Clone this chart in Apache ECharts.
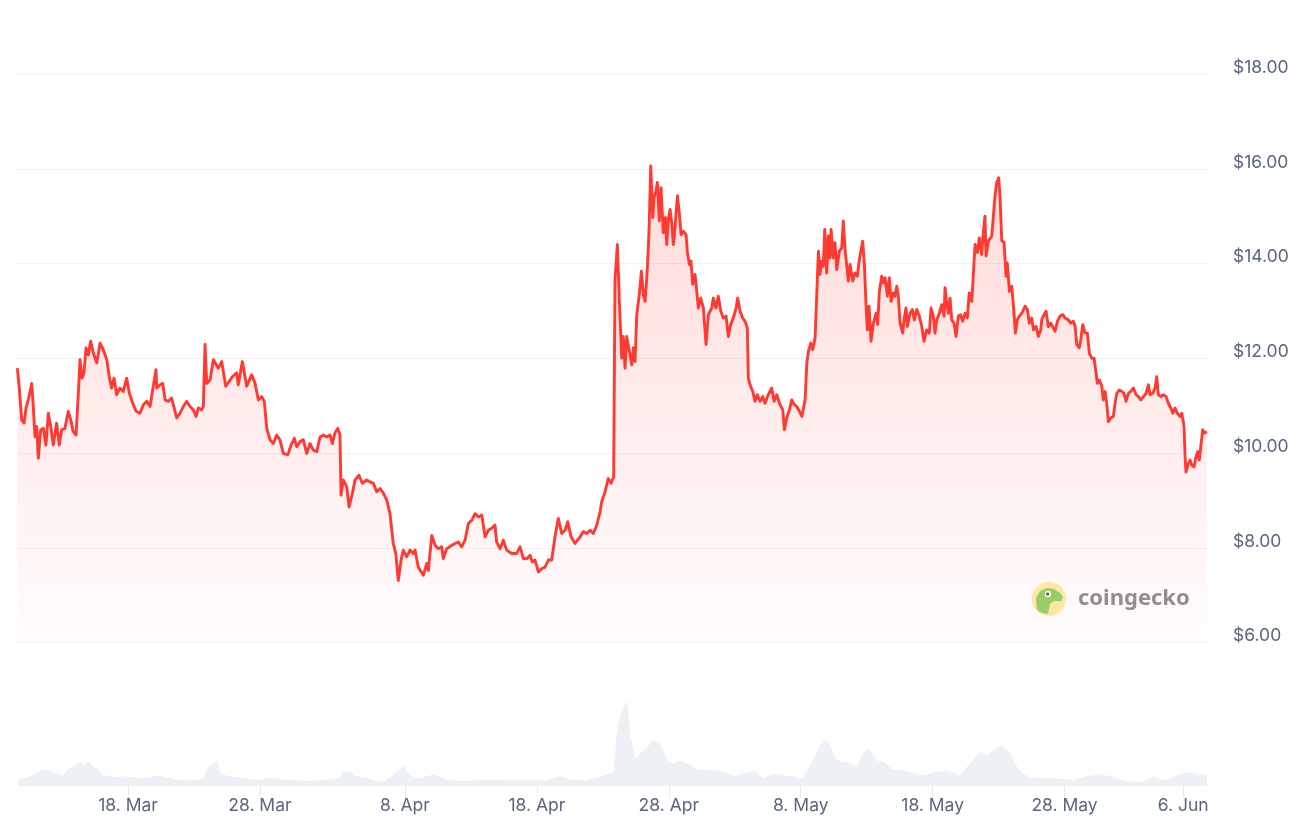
<!DOCTYPE html>
<html>
<head>
<meta charset="utf-8">
<script src="https://cdn.jsdelivr.net/npm/echarts@6/dist/echarts.min.js"></script>
<style>
html,body{margin:0;padding:0;background:#ffffff;}
#chart{width:1308px;height:831px;}
</style>
</head>
<body>
<div id="chart"></div>
<script>
// ---------- DATA ----------
const startDate = '2025-03-09';          // day 0 of the day offsets below
const viewStartDay = 0.66;
const viewEndDay = 90.80;
const tickDates = ['2025-03-18','2025-03-28','2025-04-08','2025-04-18','2025-04-28','2025-05-08','2025-05-18','2025-05-28','2025-06-06'];
const monthNames = ['Jan','Feb','Mar','Apr','May','Jun','Jul','Aug','Sep','Oct','Nov','Dec'];
const yTickValues = [6, 8, 10, 12, 14, 16, 18];

// price [dayOffset, USD]
const priceMarA = [[0.61,11.79],[0.76,11.37],[0.94,10.70],[1.12,10.63],[1.27,10.95],[1.44,11.12],[1.70,11.47],[1.82,10.98],[1.95,10.34],[2.08,10.56],[2.20,9.89],[2.38,10.49],[2.58,10.52],[2.78,10.17],[2.96,10.84],[3.14,10.56],[3.34,10.17],[3.59,10.63],[3.79,10.17],[3.97,10.49],[4.22,10.52],[4.47,10.88],[4.66,10.70],[4.85,10.45],[5.06,10.38],[5.23,11.23],[5.36,11.97],[5.51,11.58],[5.66,11.69],[5.82,12.22],[5.99,12.07],[6.17,12.36],[6.37,12.11],[6.63,11.90],[6.88,12.32],[7.13,12.18],[7.39,11.97],[7.58,11.61],[7.76,11.37],[7.94,11.58],[8.14,11.23],[8.39,11.37],[8.64,11.30],[8.90,11.58],[9.10,11.26],[9.36,11.05],[9.61,10.88],[9.91,10.84],[10.16,11.02],[10.42,11.09],[10.67,10.98],[10.87,11.33],[11.12,11.76],[11.18,11.37],[11.43,11.44],[11.63,11.47],[11.81,11.12],[12.06,11.09],[12.31,11.16],[12.69,10.74],[12.94,10.84],[13.19,10.98],[13.45,11.09],[13.70,10.98],[13.95,10.91],[14.16,10.77],[14.33,10.95],[14.59,10.91],[14.71,10.98],[14.84,12.29],[14.97,11.47],[15.22,11.54],[15.47,11.97]];
const priceMarB = [[15.60,12.00],[15.85,11.79],[16.10,11.93],[16.41,11.41],[16.66,11.51],[16.91,11.61],[17.24,11.69],[17.36,11.44],[17.67,11.93],[18.00,11.41],[18.38,11.65],[18.63,11.47],[18.88,11.12],[19.14,11.19],[19.33,11.09],[19.52,10.52],[19.77,10.28],[20.02,10.20],[20.27,10.38],[20.52,10.28],[20.77,9.99],[21.11,9.96],[21.36,10.17],[21.61,10.31],[21.79,10.13],[22.04,10.24],[22.29,10.28],[22.55,9.99],[22.80,10.20],[23.05,10.06],[23.31,10.03],[23.56,10.34],[23.81,10.38],[24.06,10.34],[24.31,10.38],[24.49,10.20],[24.69,10.42],[24.90,10.52],[25.07,10.38],[25.15,9.11],[25.32,9.43],[25.58,9.29],[25.76,8.86],[26.01,9.15],[26.21,9.43],[26.51,9.53],[26.76,9.36],[27.10,9.43],[27.35,9.39],[27.60,9.36],[27.86,9.18],[28.11,9.25],[28.36,9.15],[28.61,9.01],[28.86,8.72],[29.11,8.09],[29.30,7.88],[29.49,7.31],[29.70,7.74],[29.87,7.95],[30.13,7.81],[30.38,7.95],[30.63,7.88]];
const priceApr = [[30.76,7.95],[31.01,7.59],[31.39,7.42],[31.65,7.67],[31.77,7.52],[32.03,8.26],[32.28,8.05],[32.53,7.98],[32.78,8.02],[32.90,7.77],[33.16,7.98],[33.54,8.05],[33.79,8.09],[34.04,8.12],[34.30,8.02],[34.55,8.16],[34.80,8.51],[35.06,8.58],[35.31,8.72],[35.56,8.65],[35.82,8.69],[36.07,8.23],[36.32,8.37],[36.57,8.41],[36.82,8.48],[36.95,8.12],[37.20,7.98],[37.45,8.16],[37.71,7.95],[38.09,7.88],[38.47,7.88],[38.72,8.02],[38.97,7.77],[39.23,7.77],[39.48,7.84],[39.65,7.70],[39.86,7.74],[40.11,7.49],[40.37,7.56],[40.62,7.59],[40.87,7.74],[41.12,7.74],[41.37,8.23],[41.62,8.62],[41.88,8.30],[42.13,8.37],[42.34,8.55],[42.59,8.23],[42.89,8.09],[43.27,8.23],[43.52,8.34],[43.78,8.30],[44.03,8.37],[44.28,8.30],[44.54,8.48],[44.79,8.76],[44.91,8.97],[45.16,9.18],[45.41,9.46],[45.62,9.36],[45.82,9.50]];
const priceAprMay = [[45.92,13.66],[46.10,14.40],[46.25,13.20],[46.43,12.00],[46.55,12.46],[46.68,11.79],[46.81,12.46],[47.01,12.14],[47.19,11.86],[47.31,12.22],[47.44,11.93],[47.57,12.92],[47.76,13.34],[47.92,13.84],[48.07,13.34],[48.20,13.20],[48.33,13.70],[48.45,14.33],[48.52,14.90],[48.63,16.06],[48.78,14.97],[48.88,15.39],[49.03,15.53],[49.13,15.71],[49.28,14.90],[49.41,15.60],[49.58,14.65],[49.74,14.97],[49.84,14.40],[49.96,14.93],[50.09,15.14],[50.22,14.86],[50.34,14.40],[50.47,14.76],[50.65,15.43],[50.80,15.04],[50.93,14.61],[51.10,14.68],[51.31,14.61],[51.40,14.26],[51.56,13.98],[51.68,14.05],[51.81,13.56],[51.99,13.77],[52.12,13.77],[52.24,13.06],[52.42,13.27],[52.62,13.06],[52.82,12.29],[53.00,12.92],[53.25,13.06],[53.38,13.27],[53.58,13.06],[53.75,13.31],[53.94,12.99],[54.13,12.85],[54.34,12.89],[54.51,12.46],[54.69,12.71],[54.89,12.85],[55.10,13.06],[55.22,13.27],[55.40,12.99],[55.60,12.85],[55.78,12.78],[55.95,12.64],[56.03,11.58],[56.16,11.44],[56.36,11.30],[56.54,11.09],[56.71,11.23],[56.92,11.09],[57.12,11.19],[57.29,11.05],[57.54,11.23],[57.80,11.37],[57.98,11.09],[58.18,11.23],[58.43,11.02],[58.64,10.91],[58.76,10.49],[58.94,10.74],[59.14,10.91],[59.32,11.12],[59.52,11.02],[59.70,10.98],[59.90,10.88],[60.08,10.77]];
const priceMay = [[60.33,11.12],[60.46,11.90],[60.58,12.14],[60.76,12.32],[60.91,12.18],[61.09,12.43],[61.21,12.39],[61.34,14.26],[61.46,13.77],[61.59,14.05],[61.71,13.94],[61.82,14.72],[61.97,13.80],[62.09,14.58],[62.22,14.12],[62.30,14.72],[62.47,14.12],[62.60,14.44],[62.73,13.87],[62.93,14.26],[63.11,14.33],[63.23,14.90],[63.36,14.30],[63.49,14.26],[63.61,13.63],[63.74,13.98],[63.94,13.63],[64.12,13.80],[64.29,13.73],[64.44,14.08],[64.57,14.12],[64.70,14.47],[64.82,14.01],[64.95,13.13],[65.05,12.60],[65.18,13.10],[65.33,12.36],[65.51,12.74],[65.71,12.95],[65.84,12.71],[65.96,13.41],[66.14,13.73],[66.26,13.59],[66.39,13.70],[66.57,13.31],[66.72,13.70],[66.85,13.20],[67.02,13.38],[67.15,13.31],[67.28,13.52],[67.40,13.31],[67.53,12.74],[67.73,12.53],[67.83,12.81],[67.98,13.06],[68.08,12.67],[68.29,12.95],[68.46,13.03],[68.61,12.81],[68.80,13.03],[68.99,12.89],[69.18,12.67],[69.35,12.36],[69.55,12.60],[69.75,12.53],[69.88,13.06],[70.05,12.89],[70.18,12.53],[70.31,12.81],[70.51,12.95],[70.69,13.13],[70.87,12.89],[70.94,13.49],[71.07,13.17],[71.19,12.95],[71.32,13.27],[71.45,12.81],[71.62,12.74],[71.78,12.46],[71.95,12.89],[72.13,12.92],[72.28,12.78],[72.46,12.95],[72.63,12.85],[72.78,13.38],[72.97,13.20],[73.09,13.80],[73.22,14.40],[73.39,14.23],[73.54,14.54],[73.72,14.19],[73.85,14.68],[73.97,15.00],[74.05,14.16],[74.22,14.47],[74.48,14.58],[74.60,14.61],[74.73,15.43],[74.86,15.71],[75.01,15.81],[75.11,15.40],[75.24,14.48],[75.41,14.45],[75.57,13.73],[75.66,14.01],[75.82,13.41],[76.00,13.52],[76.17,12.95],[76.27,12.53],[76.42,12.81],[76.57,12.89],[76.76,12.95]];
const priceMayJun = [[77.01,13.10],[77.18,13.03],[77.33,12.74],[77.51,12.85],[77.64,12.60],[77.84,12.67],[78.01,12.46],[78.20,12.60],[78.27,12.81],[78.39,12.89],[78.60,12.99],[78.77,12.67],[78.96,12.74],[79.11,12.78],[79.28,12.57],[79.46,12.78],[79.66,12.89],[79.87,12.92],[80.04,12.85],[80.29,12.81],[80.47,12.74],[80.67,12.78],[80.80,12.67],[80.93,12.29],[81.12,12.22],[81.23,12.39],[81.38,12.71],[81.56,12.53],[81.73,12.53],[81.88,12.11],[82.06,12.00],[82.24,12.00],[82.39,11.69],[82.49,11.47],[82.64,11.54],[82.82,11.41],[82.94,11.12],[83.07,11.30],[83.20,11.05],[83.32,10.66],[83.50,10.74],[83.70,10.77],[83.83,11.05],[83.96,11.26],[84.16,11.33],[84.34,11.30],[84.51,11.26],[84.66,11.09],[84.84,11.26],[85.02,11.30],[85.22,11.37],[85.42,11.23],[85.60,11.19],[85.78,11.12],[85.98,11.19],[86.18,11.26],[86.36,11.44],[86.48,11.23],[86.69,11.26],[86.86,11.37],[86.99,11.61],[87.11,11.23],[87.30,11.19],[87.49,11.23],[87.70,11.19],[87.87,11.05],[88.05,10.95],[88.21,10.84],[88.38,10.95],[88.55,10.84],[88.76,10.77],[88.89,10.84],[89.06,10.56],[89.14,9.92],[89.21,9.60],[89.39,9.78],[89.52,9.85],[89.65,9.74],[89.82,9.71],[89.97,9.92],[90.10,10.03],[90.22,9.85],[90.35,10.20],[90.48,10.49],[90.58,10.42],[90.73,10.45],[90.80,10.45]];

// volume [dayOffset, relative volume]
const volumeMarApr = [[0.66,6.3],[1.19,8.3],[1.85,11.7],[2.48,15.7],[2.97,16.3],[3.44,13],[4.07,10.7],[4.56,18.3],[5.04,20.7],[5.36,25],[5.68,20.7],[6.00,24.7],[6.38,19],[6.79,16.3],[7.10,10.7],[7.91,9],[8.87,9.7],[9.83,8],[10.46,8.3],[11.26,10.7],[11.90,9],[12.70,6.3],[13.50,5.7],[14.29,5.7],[14.77,8.3],[15.00,18.3],[15.41,22.3],[15.73,25],[16.05,12.3],[16.69,9.7],[17.64,8],[18.76,6.3],[19.72,8.3],[20.68,6.7],[21.63,5.7],[22.90,5],[24.19,6.3],[24.98,8.3],[25.30,14],[25.78,14.7],[26.26,9.7],[27.06,8.3],[27.70,5.7],[28.33,4],[28.97,9.7],[29.61,17.3],[29.92,19.7],[30.41,10.7],[31.05,7.3],[32.16,11.7],[33.12,6.3],[34.40,5],[35.99,6.3],[37.58,5.7],[39.17,5.7],[40.77,5.7],[41.74,9.7],[42.69,6.3],[43.65,5.7],[44.60,8.3],[45.41,12.3],[45.82,14]];
const volumeAprJun = [[46.04,52.3],[46.36,72.3],[46.84,85.7],[47.06,52.3],[47.48,27.3],[47.82,32.3],[48.45,40],[48.77,46.3],[49.25,44],[49.57,35.7],[49.89,25.7],[50.21,22.3],[50.85,25],[51.49,22.3],[51.96,17.3],[52.60,16.3],[53.40,15.7],[54.20,14],[55.00,9.7],[55.79,13],[56.59,15],[57.07,8.3],[58.03,12.3],[59.14,9.7],[60.10,7.3],[60.74,20.7],[61.22,34],[61.70,45.7],[62.18,44],[62.65,27.3],[63.13,24],[63.77,23],[64.25,19],[64.73,34],[65.21,37.3],[65.69,25.7],[66.32,24],[66.96,16.3],[67.76,15.7],[68.56,13],[69.36,10.7],[70.15,14],[71.11,15.7],[72.07,10.7],[73.03,25.7],[73.66,34],[74.14,30.7],[74.62,36.3],[75.25,40.7],[75.90,32.3],[76.54,15.7],[77.33,8.3],[78.45,8.3],[79.73,7.3],[80.68,6.3],[81.64,9.7],[82.60,11.7],[83.56,9.7],[84.51,5],[85.78,4],[86.75,9],[87.70,5.7],[88.82,12.3],[89.45,14],[90.26,11.7],[90.80,11]];

// ---------- BUILD ----------
const DAY = 86400000;
const base = Date.parse(startDate + 'T00:00:00Z');
const pricePoints = [].concat(priceMarA, priceMarB, priceApr, priceAprMay, priceMay, priceMayJun);
const volumePoints = [].concat(volumeMarApr, volumeAprJun);
const tickDays = tickDates.map(s => (Date.parse(s + 'T00:00:00Z') - base) / DAY);
const fmtDay = v => { const d = new Date(base + v * DAY); return d.getUTCDate() + '. ' + monthNames[d.getUTCMonth()]; };

const labelColor = '#58667e';
const fontFam = 'Inter, "Noto Sans", sans-serif';

const chart = echarts.init(document.getElementById('chart'), null, {renderer: 'canvas'});
chart.setOption({
  animation: false,
  backgroundColor: '#ffffff',
  grid: [
    {left: 18, right: 101, top: 74, bottom: 188.5},
    {left: 18, right: 101, top: 686, bottom: 45}
  ],
  xAxis: [
    {type: 'value', gridIndex: 0, min: viewStartDay, max: viewEndDay, show: false, splitLine: {show: false}},
    {type: 'value', gridIndex: 1, min: viewStartDay, max: viewEndDay,
      axisLine: {show: false},
      axisTick: {show: true, length: 12, customValues: tickDays, lineStyle: {color: '#e6e9ee', width: 1}},
      splitLine: {show: false},
      axisLabel: {customValues: tickDays, formatter: fmtDay, color: labelColor, fontSize: 17.5, fontFamily: fontFam, margin: 11, hideOverlap: false, showMinLabel: true, showMaxLabel: true}
    }
  ],
  yAxis: [
    {type: 'value', gridIndex: 0, position: 'right',
      min: yTickValues[0], max: yTickValues[yTickValues.length - 1], interval: yTickValues[1] - yTickValues[0],
      axisLine: {show: false}, axisTick: {show: false},
      splitLine: {show: true, lineStyle: {color: '#eff1f4', width: 1}},
      axisLabel: {formatter: v => '$' + v.toFixed(2), color: labelColor, fontSize: 17.5, fontFamily: fontFam, margin: 26, verticalAlign: 'bottom', lineHeight: 13}
    },
    {type: 'value', gridIndex: 1, min: 0, max: 100, show: false}
  ],
  series: [
    {
      name: 'Volume', type: 'line', xAxisIndex: 1, yAxisIndex: 1,
      data: volumePoints, showSymbol: false, silent: true,
      lineStyle: {width: 0},
      areaStyle: {color: '#edf0f4', opacity: 1}
    },
    {
      name: 'Price', type: 'line', xAxisIndex: 0, yAxisIndex: 0,
      data: pricePoints, showSymbol: false, z: 3,
      lineStyle: {color: '#ff3a33', width: 2.9, join: 'round'},
      areaStyle: {
        origin: 'start',
        color: new echarts.graphic.LinearGradient(0, 0, 0, 1, [
          {offset: 0, color: 'rgba(255,58,51,0.26)'},
          {offset: 1, color: 'rgba(255,58,51,0.02)'}
        ])
      }
    }
  ],
  graphic: [
    {
      type: 'group', left: 1032, top: 582, z: 10, silent: true,
      children: [
        {type: 'circle', shape: {cx: 18, cy: 18, r: 17}, style: {fill: '#fbeba4', opacity: 0.95}},
        {type: 'polygon', shape: {points: [[6,29],[5,17],[9,10],[16,7],[23,8],[29,12],[32,16],[30,20],[23,20],[19,23],[17,33],[11,32]]}, style: {fill: '#8fd163', opacity: 0.95}},
        {type: 'circle', shape: {cx: 17, cy: 13, r: 3.2}, style: {fill: '#ffffff'}},
        {type: 'circle', shape: {cx: 16.6, cy: 13, r: 1.6}, style: {fill: '#555555'}},
        {type: 'text', x: 47, y: 18, style: {text: 'coingecko', fill: '#8a8a8a', font: 'bold 22px "Noto Sans", sans-serif', verticalAlign: 'middle', opacity: 0.95}}
      ]
    }
  ]
});
</script>
</body>
</html>
